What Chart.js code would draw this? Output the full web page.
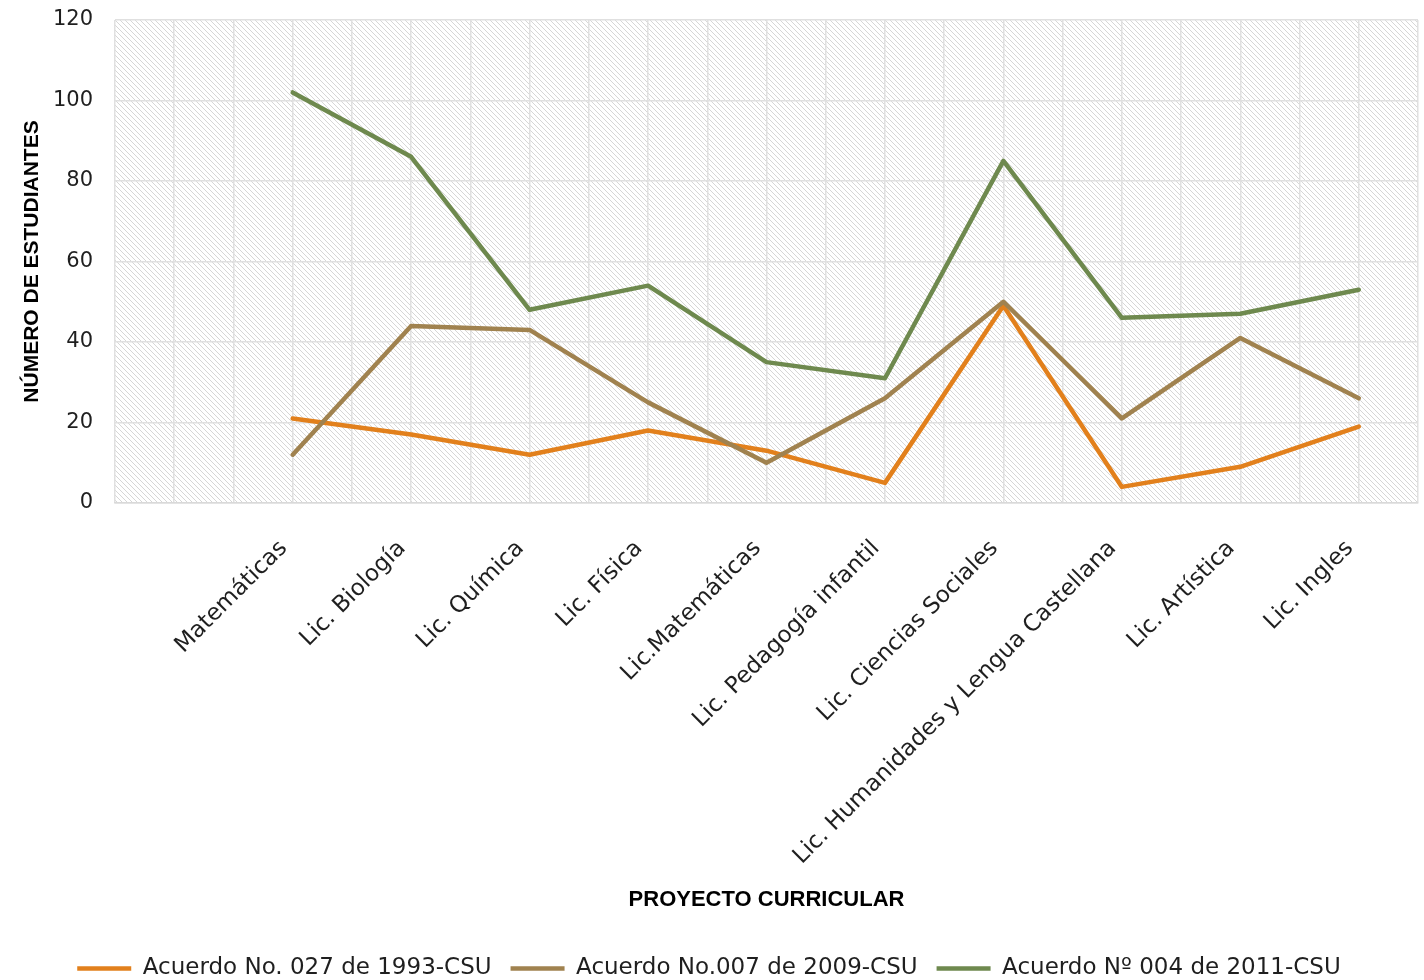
<!DOCTYPE html>
<html>
<head>
<meta charset="utf-8">
<script src="https://cdn.jsdelivr.net/npm/chart.js@4.4.1/dist/chart.umd.min.js"></script>
<style>
  html, body { margin: 0; padding: 0; background: #fff; overflow: hidden; }
  #wrap { width: 1424px; height: 980px; }
</style>
</head>
<body>
<div id="wrap"><canvas id="chart"></canvas></div>
<script>
// categories (the first slot is empty in the original sheet)
var proyectos = ["", "Matemáticas", "Lic. Biología", "Lic. Química", "Lic. Física", "Lic.Matemáticas",
                 "Lic. Pedagogía infantil", "Lic. Ciencias Sociales", "Lic. Humanidades y Lengua Castellana",
                 "Lic. Artística", "Lic. Ingles"];

var serieNombres = ["Acuerdo No. 027 de 1993-CSU", "Acuerdo No.007 de 2009-CSU", "Acuerdo Nº 004 de 2011-CSU"];

var acuerdo1993 = [null, 21, 17, 12, 18, 13, 5, 49, 4, 9, 19];
var acuerdo2009 = [null, 12, 44, 43, 25, 10, 26, 50, 21, 41, 26];
var acuerdo2011 = [null, 102, 86, 48, 54, 35, 31, 85, 46, 47, 53];

var yTicks = [0, 20, 40, 60, 80, 100, 120];

var colores = ["#E2801C", "#A0824F", "#6E894E"];

//hatched plot background like the excel pattern fill
function makeHatch()
{
    var n = 5;
    var c = document.createElement("canvas");
    c.width = n; c.height = n;
    var g = c.getContext("2d");
    g.fillStyle = "#ffffff";
    g.fillRect(0, 0, n, n);
    g.fillStyle = "#d6d6d6";
    for(var i = 0; i < n; i++)
    {
        g.fillRect(i, i, 1, 1);
    }
    return g.createPattern(c, "repeat");
}
var hatch = null;

var hatchBg = {
    id: "hatchBg",
    beforeDraw: function(chart)
    {
        var a = chart.chartArea;
        var ctx = chart.ctx;
        if(!hatch) hatch = makeHatch();
        ctx.save();
        ctx.fillStyle = hatch;
        ctx.fillRect(a.left, a.top, a.right - a.left, a.bottom - a.top);
        ctx.restore();
    }
};

var font = "'DejaVu Sans', sans-serif";
var boldFont = "'Liberation Sans', Arial, sans-serif";

function serie(i, data, order)
{
    return {
        label: serieNombres[i],
        data: data,
        borderColor: colores[i],
        backgroundColor: colores[i],
        borderWidth: 4.5,
        borderCapStyle: "round",
        borderJoinStyle: "round",
        pointRadius: 0,
        pointHoverRadius: 0,
        tension: 0,
        order: order
    };
}

var chart = new Chart(document.getElementById("chart"), {
    type: "line",
    data: {
        labels: proyectos,
        datasets: [
            serie(0, acuerdo1993, 2),
            serie(1, acuerdo2009, 1),
            serie(2, acuerdo2011, 0)
        ]
    },
    options: {
        responsive: true,
        maintainAspectRatio: false,
        animation: false,
        layout: { padding: { top: 20, right: 6, bottom: -10, left: 0 } },
        plugins: {
            tooltip: { enabled: false },
            legend: {
                position: "bottom",
                labels: {
                    font: { family: font, size: 23 },
                    color: "#1f1f1f",
                    usePointStyle: true,
                    pointStyle: "line",
                    pointStyleWidth: 54,
                    boxHeight: 22,
                    padding: 19,
                    sort: function(a, b) { return a.datasetIndex - b.datasetIndex; }
                }
            }
        },
        scales: {
            x: {
                offset: true,
                grid: { offset: true, color: "#e0e0e0", lineWidth: 1.5, drawTicks: false },
                border: { color: "#d9d9d9", width: 1.5 },
                ticks: {
                    autoSkip: false,
                    maxRotation: 45,
                    minRotation: 45,
                    padding: 32,
                    labelOffset: -9,
                    color: "#1f1f1f",
                    font: { family: font, size: 23 }
                },
                title: {
                    display: true,
                    text: "PROYECTO CURRICULAR",
                    color: "#000",
                    font: { family: boldFont, size: 22, weight: "bold" },
                    padding: { top: 0, bottom: 25 }
                },
                afterFit: function(scale) { scale.height = 435; }
            },
            x2: {
                type: "category",
                labels: proyectos,
                position: "bottom",
                offset: true,
                grid: { offset: false, color: "#e0e0e0", lineWidth: 1.5, drawTicks: false },
                border: { display: false },
                ticks: { display: false }
            },
            y: {
                min: 0,
                max: 120,
                afterBuildTicks: function(scale) {
                    scale.ticks = yTicks.map(function(v) { return { value: v }; });
                },
                grid: { color: "#e0e0e0", lineWidth: 1.5, drawTicks: false },
                border: { display: false },
                ticks: {
                    padding: 22,
                    color: "#1f1f1f",
                    font: { family: font, size: 21 }
                },
                title: {
                    display: true,
                    text: "NÚMERO DE ESTUDIANTES",
                    color: "#000",
                    font: { family: boldFont, size: 21, weight: "bold" },
                    padding: { top: 20, bottom: 0 }
                },
                afterFit: function(scale) {
                    scale.width = 115;
                    scale.paddingTop = 0;
                    scale.paddingBottom = 0;
                }
            }
        }
    },
    plugins: [hatchBg]
});
</script>
</body>
</html>
